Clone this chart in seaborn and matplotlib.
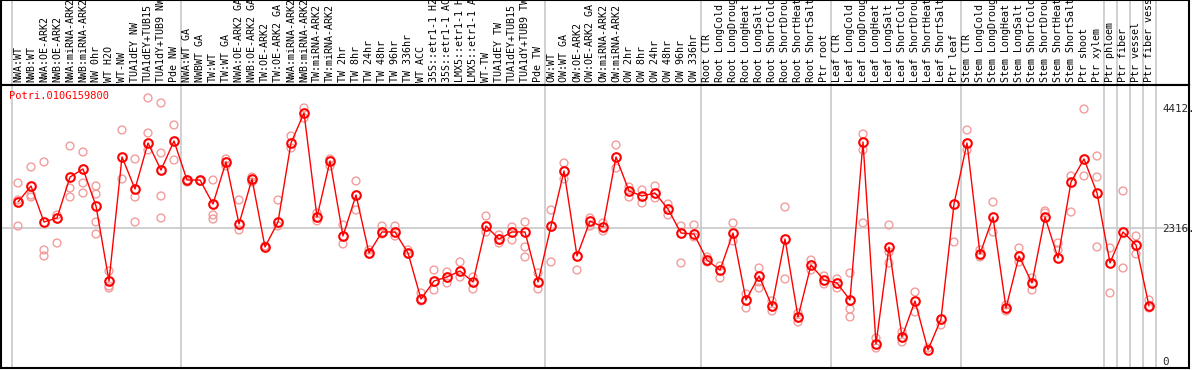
import numpy as np
import pandas as pd
import matplotlib
matplotlib.use("Agg")
import matplotlib.pyplot as plt
import seaborn as sns

# Sample labels (one column each)
samples = [
    "NWA:WT", "NWB:WT", "NWA:OE-ARK2", "NWB:OE-ARK2", "NWA:miRNA-ARK2", "NWB:miRNA-ARK2",
    "NW 0hr", "WT H2O", "WT-NW", "TUA1dEY NW", "TUA1dEY+TUB15", "TUA1dY+TUB9 NW", "Pde NW",
    "NWA:WT GA", "NWBWT GA", "TW:WT", "TW:WT GA", "NWA:OE-ARK2 GA", "NWB:OE-ARK2 GA",
    "TW:OE-ARK2", "TW:OE-ARK2 GA", "NWA:miRNA-ARK2", "NWB:miRNA-ARK2", "TW:miRNA-ARK2",
    "TW:miRNA-ARK2", "TW 2hr", "TW 8hr", "TW 24hr", "TW 48hr", "TW 96hr", "TW 336hr",
    "WT ACC", "35S::etr1-1 H2", "35S::etr1-1 AC", "LMX5::etr1-1 H", "LMX5::etr1-1 A",
    "WT-TW", "TUA1dEY TW", "TUA1dEY+TUB15", "TUA1dY+TUB9 TW", "Pde TW",
    "OW:WT", "OW:WT GA", "OW:OE-ARK2", "OW:OE-ARK2 GA", "OW:miRNA-ARK2", "OW:miRNA-ARK2",
    "OW 2hr", "OW 8hr", "OW 24hr", "OW 48hr", "OW 96hr", "OW 336hr",
    "Root CTR", "Root LongCold", "Root LongDroug", "Root LongHeat", "Root LongSalt",
    "Root ShortCold", "Root ShortDrou", "Root ShortHeat", "Root ShortSalt", "Ptr root",
    "Leaf CTR", "Leaf LongCold", "Leaf LongDroug", "Leaf LongHeat", "Leaf LongSalt",
    "Leaf ShortCold", "Leaf ShortDrou", "Leaf ShortHeat", "Leaf ShortSalt", "Ptr leaf",
    "Stem CTR", "Stem LongCold", "Stem LongDroug", "Stem LongHeat", "Stem LongSalt",
    "Stem ShortCold", "Stem ShortDrou", "Stem ShortHeat", "Stem ShortSalt", "Ptr shoot",
    "Ptr xylem", "Ptr phloem", "Ptr fiber", "Ptr vessel", "Ptr fiber vess",
]

# Mean expression per sample
means = [
    2768, 3047, 2420, 2490, 3203, 3343, 2699, 1393, 3552, 2995, 3795, 3325, 3830,
    3151, 3151, 2733, 3465, 2385, 3169, 1985, 2420, 3795, 4318, 2507, 3482, 2176,
    2890, 1880, 2246, 2246, 1880, 1079, 1393, 1462, 1567, 1375, 2350, 2124, 2246,
    2246, 1375,
    2350, 3308, 1828, 2437, 2333, 3552, 2960, 2873, 2925, 2646, 2228, 2211,
    1758, 1584, 2228, 1062, 1480, 958, 2124, 766, 1671, 1410,
    1358, 1062, 3813, 296, 1985, 418, 1045, 192, 731, 2733,
    3795, 1863, 2507, 923, 1828, 1358, 2507, 1793, 3116, 3517, 2925,
    1706, 2246, 2020, 958,
]

# Individual replicates per sample
replicates = [
    [3099, 2350, 2803], [3378, 2890, 2855], [3465, 1933, 1828], [2054, 2542],
    [3743, 3012, 2855], [3639, 3099, 2925], [3047, 2907, 2420, 2211], [1567, 1306, 1271],
    [4022, 3169], [3517, 2855, 2420], [4579, 3969, 3674], [4492, 3621, 2873, 2490],
    [4109, 3499], [3151, 3116], [3134], [3151, 2542, 2472], [3517, 3395], [2803, 2281],
    [3203, 3116], [2002], [2803, 2350], [3917, 3708], [4405, 4231], [2577, 2440],
    [3517, 3395], [2368, 2037], [3134, 2629], [1933, 1863], [2350, 2211], [2350, 2176],
    [1933, 1863], [1184, 1045], [1584, 1236], [1549, 1358], [1724, 1462], [1462, 1254],
    [2524, 2246], [2194, 2054], [2107, 2333], [1985, 1811, 2420], [1532, 1254],
    [2629, 1724], [3447, 3169], [1584], [2490, 2350], [2403, 2263], [3761, 3360],
    [3029, 2855], [2977, 2751], [3047, 2838], [2733, 2542], [2350, 1706], [2368, 2159],
    [1811, 1724], [1654, 1445], [2403, 2089], [1166, 923], [1619, 1375, 1271],
    [1045, 871], [2681, 1428], [836, 679], [1758, 1584], [1480, 1341],
    [1428, 1271], [1532, 905, 766], [3952, 3674, 2403], [400, 226], [2368, 1898, 1706],
    [505, 331], [1201, 853], [226], [627], [2072],
    [4022, 3674], [1933, 1811], [2768, 2246], [975, 871], [1967, 1724], [1445, 1236],
    [2612, 2577], [2054, 1933], [3221, 2594], [4387, 3221], [3569, 3203, 1985],
    [1967, 1184], [2960, 1619], [2176, 1863], [1062, 923],
]

gene = "Potri.010G159800"
tick_values = [0, 2316, 4412]
tick_labels = ["0", "2316.", "4412."]
group_breaks = [-0.5, 12.5, 40.5, 52.5, 62.5, 72.5, 83.5, 84.5, 85.5, 86.5, 87.5]

sns.set_style("white")
plt.rcParams["font.family"] = ["DejaVu Sans Mono", "DejaVu Sans"]

idx = np.arange(len(samples))
mean_df = pd.DataFrame({"idx": idx, "value": means})
rep_df = pd.DataFrame(
    [(i, v) for i, reps in enumerate(replicates) for v in reps], columns=["idx", "value"]
)

fig = plt.figure(figsize=(11.94, 3.70), dpi=100)
W, H = 1194, 370
ax_head = fig.add_axes([1 / W, (H - 85) / H, 1188 / W, 85 / H])
ax = fig.add_axes([1 / W, 2 / H, 1188 / W, 283 / H], sharex=ax_head)

xlim = (-17 / 13, 1171 / 13)
grey = "#c8c8c8"

# header with rotated sample names
ax_head.set_xlim(*xlim)
ax_head.set_ylim(0, 1)
for b in group_breaks:
    ax_head.axvline(b, color=grey, lw=1.2, zorder=0)
for i, name in enumerate(samples):
    ax_head.text(i, 0.03, name, rotation=90, ha="center", va="bottom",
                 fontsize=7.2, color="black", clip_on=True)
ax_head.set_xticks([])
ax_head.set_yticks([])
for s in ax_head.spines.values():
    s.set_color("black")
    s.set_linewidth(1.5)

# main plot
for b in group_breaks:
    ax.axvline(b, color=grey, lw=1.2, zorder=0)
ax.axhline(2316, color=grey, lw=1.2, zorder=0)

sns.scatterplot(data=rep_df, x="idx", y="value", ax=ax, s=32, marker="o",
                facecolor="none", edgecolor="#f29c9c", linewidth=1.0, zorder=2)
sns.lineplot(data=mean_df, x="idx", y="value", ax=ax, color="red", lw=1,
             marker="o", markersize=6.2, markerfacecolor="none",
             markeredgecolor="red", markeredgewidth=1.5, zorder=3)

ax.set_xlim(*xlim)
ax.set_ylim(-122, 4805)
ax.set_yticks(tick_values)
ax.set_yticklabels(tick_labels)
ax.tick_params(axis="y", left=False, labelleft=False, right=True, labelright=True,
               length=0, pad=-19, labelsize=7.8)
ax.tick_params(axis="x", bottom=False, labelbottom=False)
ax.set_xlabel("")
ax.set_ylabel("")
for s in ax.spines.values():
    s.set_color("black")
    s.set_linewidth(1.5)

ax.text(8 / 1188, 0.96, gene, transform=ax.transAxes, color="red",
        fontsize=7.5, ha="left", va="center")

fig.savefig("out.png", dpi=100)
